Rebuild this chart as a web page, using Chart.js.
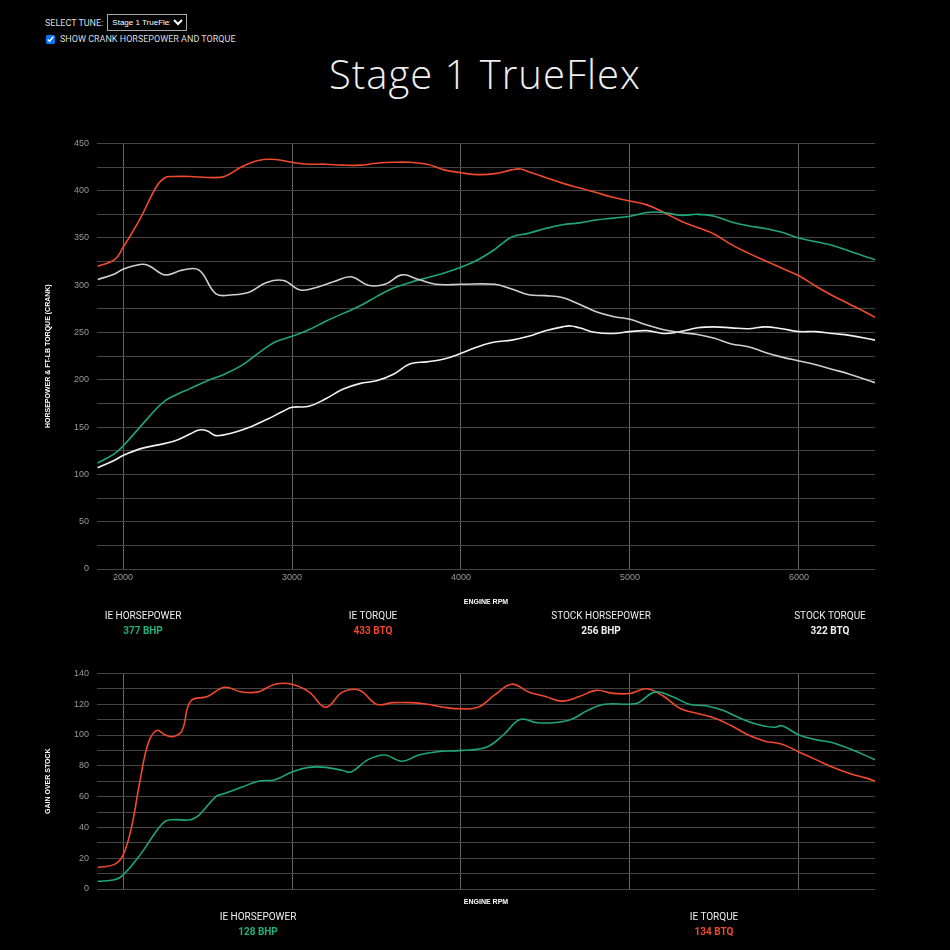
<!DOCTYPE html>
<html><head><meta charset="utf-8">
<script src="https://cdn.jsdelivr.net/npm/chart.js@4"></script>
<style>
body{margin:0;background:#000;width:950px;height:950px;overflow:hidden;font-family:Roboto,"DejaVu Sans",sans-serif;color:#ddd;position:relative}
.abs{position:absolute}
#title{left:0;width:970px;top:46px;text-align:center;font-size:40px;font-weight:300;color:#eee;letter-spacing:1px;font-family:"Open Sans",sans-serif}
.lab{font-size:10px;color:#eee;text-align:center;width:200px;line-height:15px}
.lab b{display:block}
select{font-size:8px;background:#000;color:#fff;border:1px solid #aaa;height:17px;width:80px}
</style></head><body>
<div class="abs" style="left:45px;top:14px;font-size:9px;color:#ddd;display:flex;align-items:center;gap:4px">SELECT TUNE: <select><option>Stage 1 TrueFlex</option></select></div>
<div class="abs" style="left:46px;top:34px;font-size:9px;color:#ddd;display:flex;align-items:center;gap:2px"><input type="checkbox" checked style="width:9px;height:9px;margin:0 3px 0 0">SHOW CRANK HORSEPOWER AND TORQUE</div>
<div id="title" class="abs">Stage 1 TrueFlex</div>
<div class="abs" style="left:40px;top:130px;width:860px;height:480px"><canvas id="c1"></canvas></div>
<div class="abs" style="left:40px;top:660px;width:860px;height:250px"><canvas id="c2"></canvas></div>
<div class="abs lab" style="left:43px;top:608px">IE HORSEPOWER<b style="color:#1fb07f">377 BHP</b></div>
<div class="abs lab" style="left:273px;top:608px">IE TORQUE<b style="color:#f0492e">433 BTQ</b></div>
<div class="abs lab" style="left:501px;top:608px">STOCK HORSEPOWER<b style="color:#eee">256 BHP</b></div>
<div class="abs lab" style="left:730px;top:608px">STOCK TORQUE<b style="color:#eee">322 BTQ</b></div>
<div class="abs lab" style="left:158px;top:909px">IE HORSEPOWER<b style="color:#1fb07f">128 BHP</b></div>
<div class="abs lab" style="left:614px;top:909px">IE TORQUE<b style="color:#f0492e">134 BTQ</b></div>
<script>
const ieTorque=[[1850,320],[1950,327],[2000,340],[2100,370],[2200,405],[2250,414],[2300,415],[2400,415],[2500,414],[2600,415],[2700,425],[2800,432],[2900,433],[3000,430],[3100,428],[3200,428],[3300,427],[3400,427],[3500,429],[3600,430],[3700,430],[3800,428],[3900,422],[4000,419],[4100,417],[4200,418],[4300,422],[4350,423],[4400,420],[4500,414],[4600,408],[4700,403],[4800,398],[4900,393],[5000,389],[5100,385],[5200,377],[5300,368],[5400,361],[5500,354],[5600,343],[5700,334],[5800,326],[5900,318],[6000,310],[6100,299],[6200,289],[6300,280],[6400,271],[6450,266]];
const ieHp=[[1850,112],[1950,122],[2000,130],[2100,150],[2200,170],[2250,178],[2300,183],[2400,191],[2500,199],[2600,206],[2700,215],[2800,228],[2900,240],[3000,246],[3100,253],[3200,262],[3300,270],[3400,278],[3500,288],[3600,297],[3700,303],[3800,308],[3900,313],[4000,319],[4100,327],[4200,338],[4300,351],[4400,355],[4500,360],[4600,364],[4700,366],[4800,369],[4900,371],[5000,373],[5100,377],[5200,377],[5300,374],[5400,375],[5500,373],[5600,367],[5700,363],[5800,360],[5900,356],[6000,350],[6100,346],[6200,342],[6300,336],[6400,330],[6450,327]];
const stockTorque=[[1850,306],[1950,312],[2000,317],[2100,322],[2150,321],[2250,311],[2350,316],[2450,316],[2550,291],[2650,290],[2750,293],[2850,303],[2950,305],[3050,295],[3150,298],[3250,304],[3350,309],[3450,300],[3550,301],[3650,311],[3750,306],[3850,301],[4000,301],[4200,301],[4300,296],[4400,290],[4500,289],[4600,287],[4700,280],[4800,272],[4900,267],[5000,264],[5100,258],[5200,253],[5300,250],[5400,248],[5500,244],[5600,238],[5700,235],[5800,229],[5900,224],[6000,220],[6100,216],[6200,211],[6300,206],[6450,197]];
const stockHp=[[1850,107],[1950,115],[2000,120],[2100,127],[2200,131],[2300,135],[2400,143],[2450,147],[2500,146],[2550,141],[2650,144],[2750,150],[2850,158],[2950,167],[3000,171],[3100,172],[3200,180],[3300,190],[3400,196],[3500,199],[3600,206],[3700,217],[3800,219],[3900,222],[4000,228],[4100,235],[4200,240],[4300,242],[4400,246],[4500,252],[4600,256],[4650,257],[4700,255],[4800,250],[4900,249],[5000,251],[5100,252],[5200,249],[5300,251],[5400,255],[5500,256],[5600,255],[5700,254],[5800,256],[5900,254],[6000,251],[6100,251],[6200,249],[6300,247],[6450,242]];
const gainTorque=[[1850,14],[1950,16],[2000,22],[2050,40],[2100,70],[2150,95],[2200,103],[2250,100],[2300,99],[2350,103],[2400,122],[2500,125],[2600,131],[2700,128],[2800,128],[2900,133],[3000,133],[3100,128],[3200,118],[3300,128],[3400,129],[3500,120],[3600,121],[3700,121],[3800,120],[3900,118],[4000,117],[4100,118],[4200,126],[4300,133],[4400,128],[4500,125],[4600,122],[4700,125],[4800,129],[4900,127],[5000,127],[5100,130],[5200,125],[5300,117],[5400,114],[5500,111],[5600,106],[5700,100],[5800,96],[5900,94],[6000,89],[6100,84],[6200,79],[6300,75],[6400,72],[6450,70]];
const gainHp=[[1850,5],[1950,6],[2000,9],[2100,22],[2200,38],[2250,44],[2300,45],[2400,45],[2450,48],[2550,60],[2600,62],[2700,66],[2800,70],[2900,71],[3000,76],[3100,79],[3200,79],[3300,77],[3350,76],[3450,84],[3550,87],[3650,83],[3750,87],[3850,89],[4000,90],[4150,92],[4250,100],[4350,110],[4450,108],[4550,108],[4650,110],[4750,116],[4850,120],[5000,120],[5050,121],[5150,128],[5250,125],[5350,120],[5450,119],[5550,116],[5650,111],[5750,107],[5850,105],[5900,106],[6000,100],[6100,97],[6200,95],[6300,91],[6450,84]];
const rpmTicks=[2000,3000,4000,5000,6000];
const xMin=1846,xMax=6450;
const RED='#f0492e',GREEN='#1fa67a';
const pts=a=>a.map(p=>({x:p[0],y:p[1]}));
const ds=(d,c)=>({data:pts(d),borderColor:c,borderWidth:1.6,pointRadius:0,tension:0.4,fill:false});
function opts(yMax,yStep,labelEvery,yTitle,xH,showX){
 return {responsive:true,maintainAspectRatio:false,animation:false,
  layout:{padding:{top:yMax===450?8:11,right:25,left:0,bottom:0}},
  plugins:{legend:{display:false},tooltip:{enabled:false}},
  scales:{
   x:{type:'linear',min:xMin,max:xMax,
      afterBuildTicks:s=>{s.ticks=rpmTicks.map(v=>({value:v}));},
      ticks:{display:showX,color:'#999',font:{size:9},callback:v=>v},
      grid:{color:'#666',lineWidth:1,drawTicks:false},border:{display:false},
      title:{display:true,text:'ENGINE RPM',color:'#fff',font:{size:7,weight:'bold'},padding:{top:showX?4:6}},
      afterFit:s=>{s.height=xH;}},
   y:{min:0,max:yMax,ticks:{stepSize:yStep,color:'#999',font:{size:9},padding:8,
      callback:v=>(v%labelEvery===0?v:'')},
      grid:{color:'#444',lineWidth:1,drawTicks:false},border:{display:false},
      title:{display:true,text:yTitle,color:'#fff',font:{size:7,weight:'bold'}},
      afterFit:s=>{s.width=57;}}
  }};
}
new Chart(document.getElementById('c1'),{type:'line',data:{datasets:[ds(stockTorque,'#cfcfcf'),ds(stockHp,'#f2f2f2'),ds(ieHp,GREEN),ds(ieTorque,RED)]},options:opts(450,25,50,'HORSEPOWER & FT-LB TORQUE (CRANK)',41,true)});
new Chart(document.getElementById('c2'),{type:'line',data:{datasets:[ds(gainHp,GREEN),ds(gainTorque,RED)]},options:opts(140,10,20,'GAIN OVER STOCK',21,false)});
</script></body></html>
